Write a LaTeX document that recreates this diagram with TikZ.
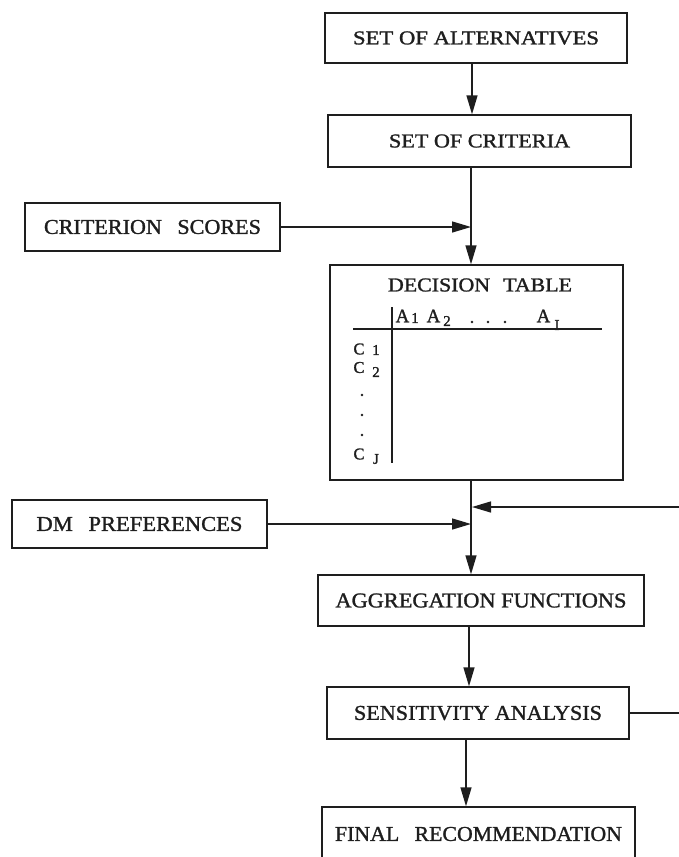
\documentclass[tikz,border=0pt]{standalone}
\usepackage{fontspec}
\setmainfont{Liberation Serif}
\newfontfamily\heavy{Liberation Serif}[FakeBold=1.3]
\usetikzlibrary{arrows.meta}
\newcommand{\fitt}[3]{\resizebox{#1pt}{#2pt}{\heavy #3}}
\definecolor{ink}{HTML}{1E1E1E}
\begin{document}
\begin{tikzpicture}[x=1pt,y=-1pt,
  box/.style={draw=ink,line width=1.4pt,inner sep=0pt,text=ink},
  ln/.style={draw=ink,line width=1.3pt},
  arr/.style={draw=ink,line width=1.4pt,-{Triangle[length=19pt,width=11pt]}},
  cell/.style={inner sep=0pt,text=ink,font=\heavy\fontsize{19}{19}\selectfont},
  ccell/.style={inner sep=0pt,text=ink,font=\heavy\fontsize{16.5}{16.5}\selectfont},
  sub/.style={inner sep=0pt,text=ink,font=\heavy\fontsize{15}{15}\selectfont}]
\useasboundingbox (0,0) rectangle (679,857);
\clip (0,0) rectangle (679,857);
% column positions
\coordinate (colA) at (472,0);
\coordinate (colB) at (471,0);
\coordinate (colC) at (469,0);
\coordinate (colD) at (466,0);
\coordinate (fbr) at (692,0);
\coordinate (fb) at (472,507);
% boxes
\node[box,minimum width=302pt,minimum height=50pt] (alt) at (476,38)
  {\fitt{246}{13}{SET OF ALTERNATIVES}};
\node[box,minimum width=303pt,minimum height=52pt] (crit) at (479.5,141)
  {\fitt{181}{13}{SET OF CRITERIA}};
\node[box,minimum width=255pt,minimum height=48pt] (scores) at (152.5,227)
  {\fitt{217}{14}{CRITERION\hspace{0.7em}SCORES}};
\node[box,minimum width=293pt,minimum height=215pt] (tbl) at (476.5,372.5) {};
\node[inner sep=0pt,text=ink] (ttl) at (480,285) {\fitt{184}{13}{DECISION\hspace{0.6em}TABLE}};
\node[box,minimum width=255pt,minimum height=48pt] (dm) at (139.5,524)
  {\fitt{206}{14}{DM\hspace{0.7em}PREFERENCES}};
\node[box,minimum width=326pt,minimum height=51pt] (agg) at (481,600.5)
  {\fitt{291}{14}{AGGREGATION FUNCTIONS}};
\node[box,minimum width=302pt,minimum height=52pt] (sens) at (478,713)
  {\fitt{248}{14}{SENSITIVITY ANALYSIS}};
\node[box,minimum width=313pt,minimum height=54pt] (fin) at (478.5,834)
  {\fitt{287}{14}{FINAL\hspace{0.7em}RECOMMENDATION}};
% decision table contents
\coordinate (hl) at (353,329);
\coordinate (hr) at (602,329);
\coordinate (vt) at (392,307);
\coordinate (vb) at (392,463);
\draw[ln] (hl) -- (hr);
\draw[ln] (vt) -- (vb);
\node[cell] (a1) at (402.5,316) {A};
\node[sub] (a1s) at (415,318) {1};
\node[cell] (a2) at (433.5,316) {A};
\node[sub] (a2s) at (447,321) {2};
\fill[ink] (472,322) circle (1.4pt) (488,322) circle (1.4pt) (505,322) circle (1.4pt);
\node[cell] (ai) at (543.5,316) {A};
\node[sub] (ais) at (557,325) {I};
\node[ccell] (c1) at (359,349) {C};
\node[sub] (c1s) at (376,350) {1};
\node[ccell] (c2) at (359,367.5) {C};
\node[sub] (c2s) at (376,372) {2};
\fill[ink] (362,395) circle (1.3pt) (362,415) circle (1.3pt) (362,435) circle (1.3pt);
\node[ccell] (cj) at (359,454) {C};
\node[sub] (cjs) at (376,459) {J};
% connectors
\draw[arr] (alt.south -| colA) -- (crit.north -| colA);
\draw[arr] (crit.south -| colB) -- (tbl.north -| colB);
\draw[arr] (scores.east) -- (scores.east -| colB);
\draw[arr] (tbl.south -| colB) -- (agg.north -| colB);
\draw[arr] (dm.east) -- (dm.east -| colB);
\draw[arr] (sens.east) -- (sens.east -| fbr) |- (fb);
\draw[arr] (agg.south -| colC) -- (sens.north -| colC);
\draw[arr] (sens.south -| colD) -- (fin.north -| colD);
\end{tikzpicture}
\end{document}
